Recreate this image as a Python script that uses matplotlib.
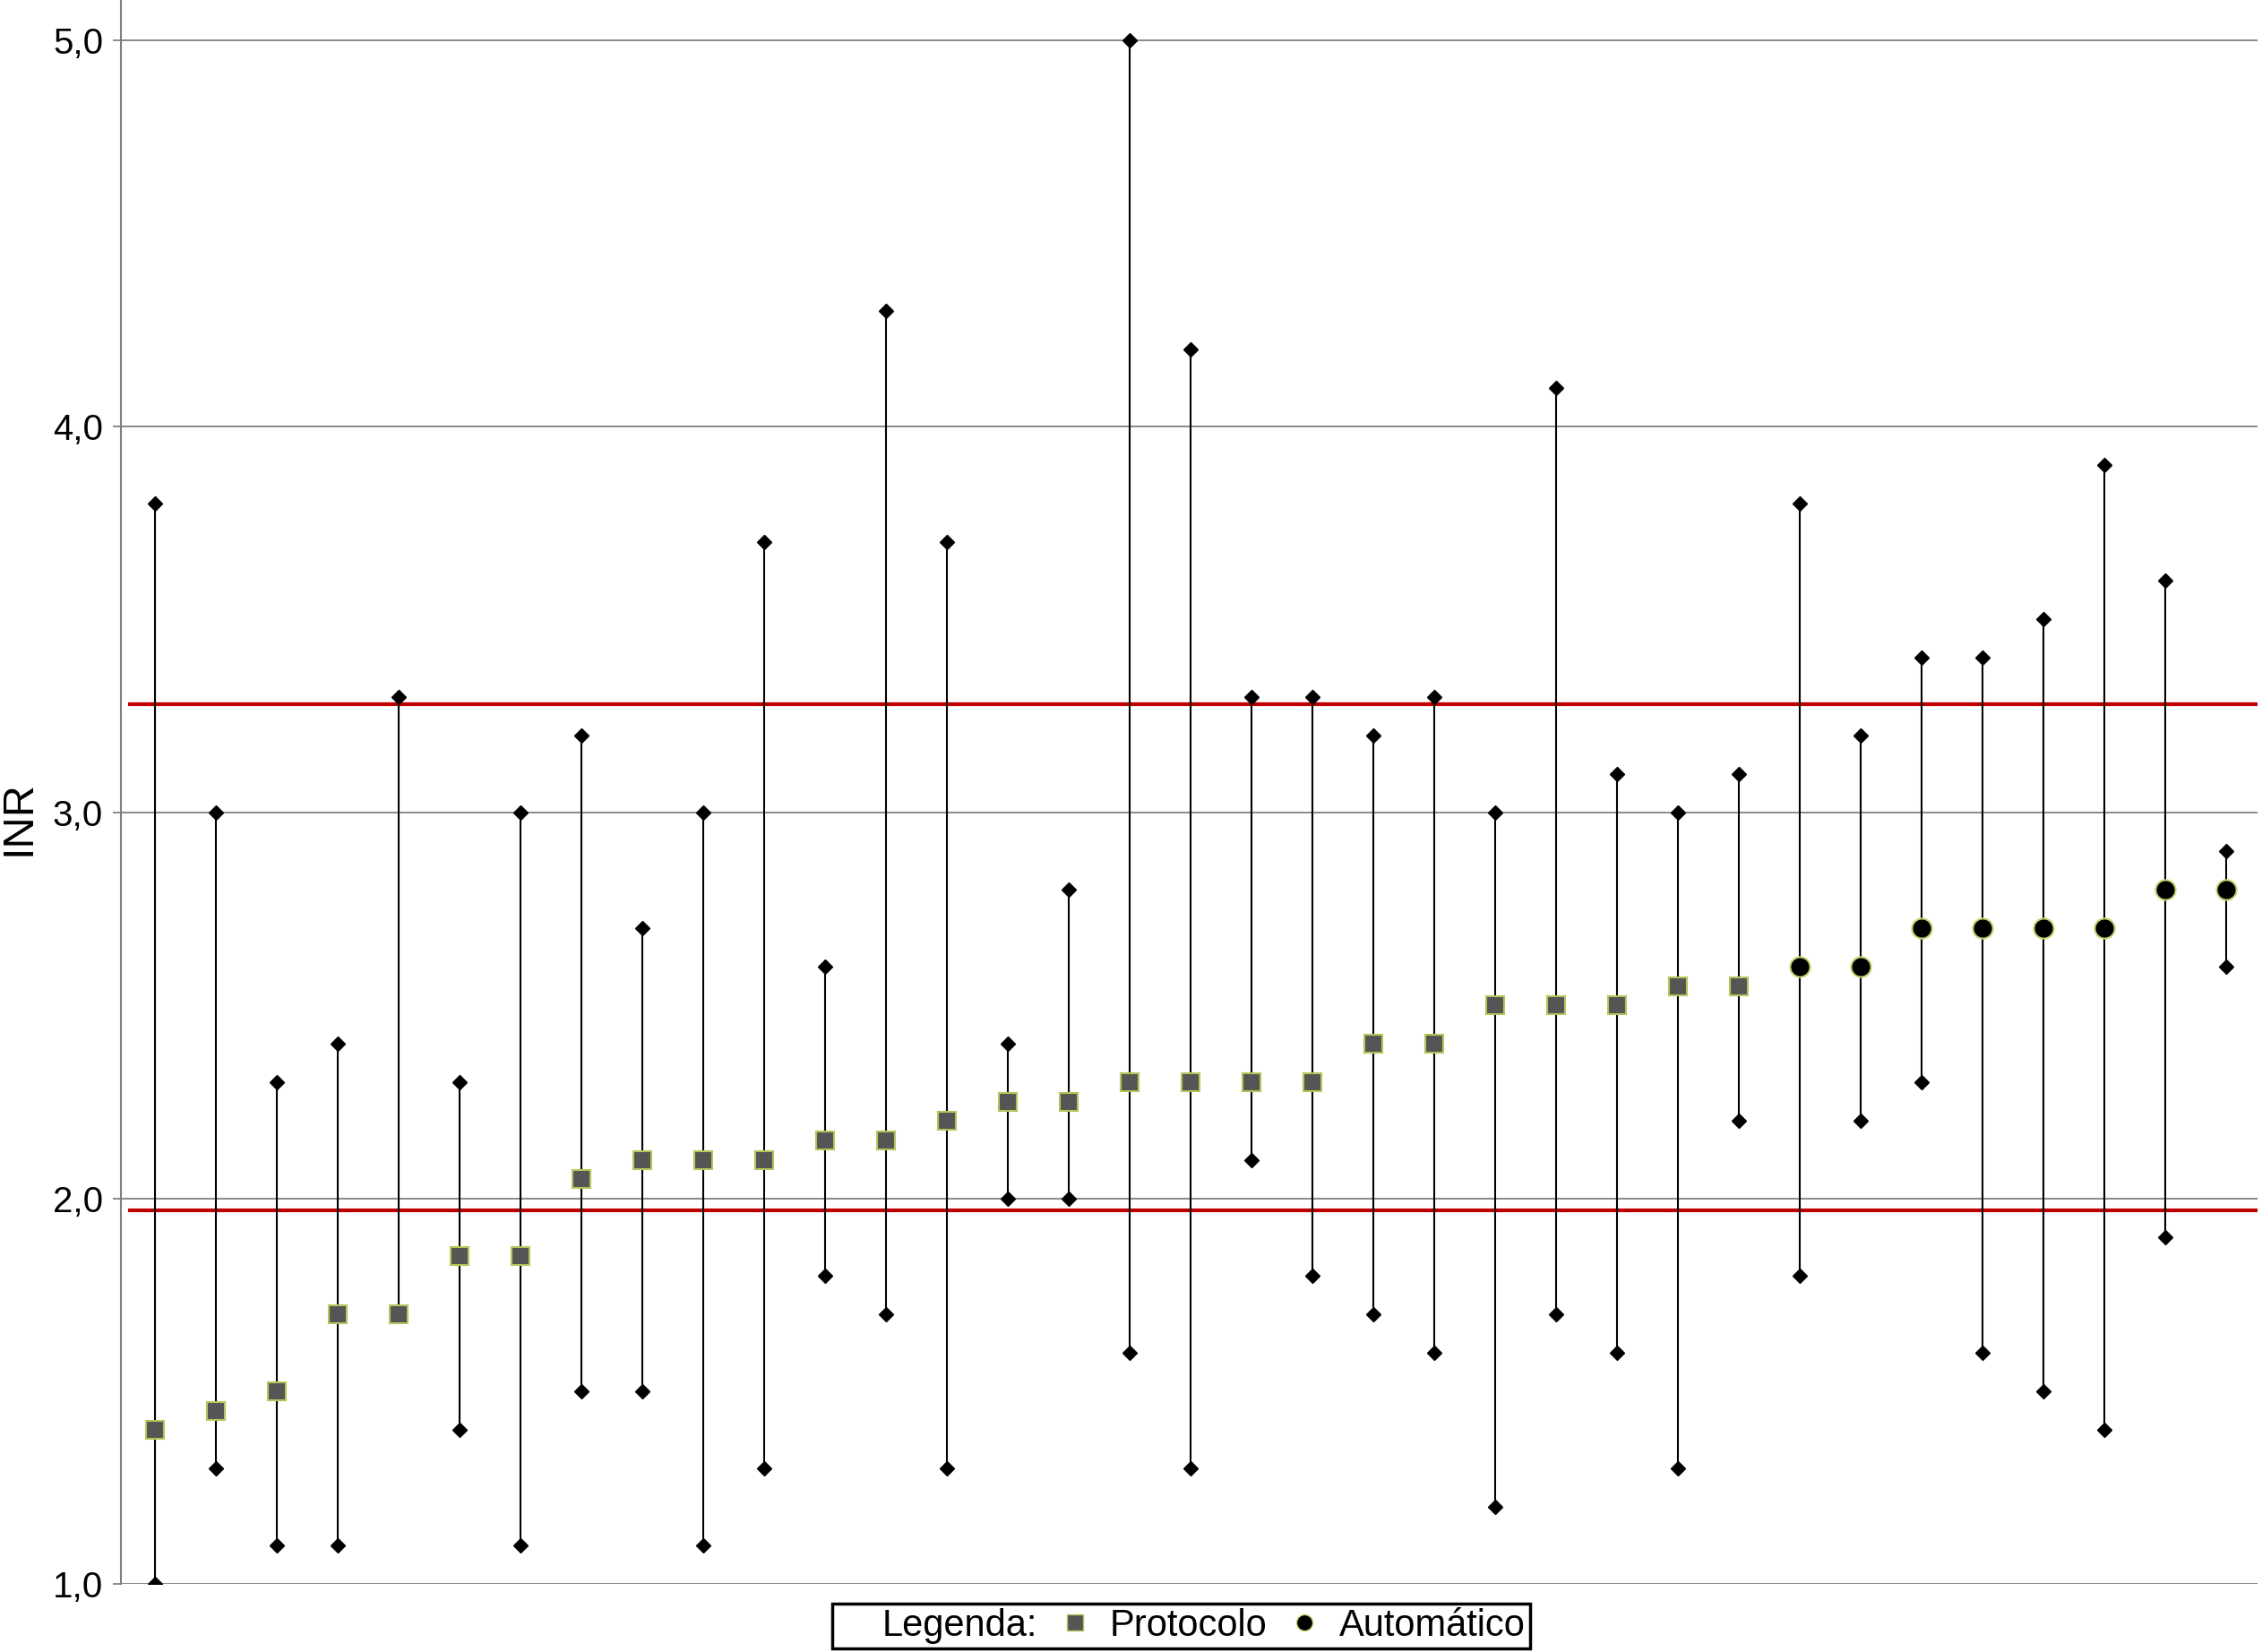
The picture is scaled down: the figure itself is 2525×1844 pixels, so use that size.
import numpy as np
import matplotlib
matplotlib.use('Agg')
import matplotlib.pyplot as plt
from matplotlib.lines import Line2D

# INR por doente: valor central, mínimo e máximo
centro = [1.4, 1.45, 1.5, 1.7, 1.7, 1.85, 1.85, 2.05, 2.1, 2.1, 2.1, 2.15, 2.15, 2.2,
          2.25, 2.25, 2.3, 2.3, 2.3, 2.3, 2.4, 2.4, 2.5, 2.5, 2.5, 2.55, 2.55,
          2.6, 2.6, 2.7, 2.7, 2.7, 2.7, 2.8, 2.8]
minimo = [1.0, 1.3, 1.1, 1.1, np.nan, 1.4, 1.1, 1.5, 1.5, 1.1, 1.3, 1.8, 1.7, 1.3,
          2.0, 2.0, 1.6, 1.3, 2.1, 1.8, 1.7, 1.6, 1.2, 1.7, 1.6, 1.3, 2.2,
          1.8, 2.2, 2.3, 1.6, 1.5, 1.4, 1.9, 2.6]
maximo = [3.8, 3.0, 2.3, 2.4, 3.3, 2.3, 3.0, 3.2, 2.7, 3.0, 3.7, 2.6, 4.3, 3.7,
          2.4, 2.8, 5.0, 4.2, 3.3, 3.3, 3.2, 3.3, 3.0, 4.1, 3.1, 3.0, 3.1,
          3.8, 3.2, 3.4, 3.4, 3.5, 3.9, 3.6, 2.9]
tipo = ['Protocolo'] * 27 + ['Automático'] * 8

limites = [1.97, 3.28]
yticks = [1, 2, 3, 4, 5]
ytick_labels = ['1,0', '2,0', '3,0', '4,0', '5,0']

plt.rcParams['font.family'] = ['Liberation Sans', 'DejaVu Sans']

centro = np.array(centro)
minimo = np.array(minimo)
maximo = np.array(maximo)
tipo = np.array(tipo)
x = np.arange(1, len(centro) + 1)

fig = plt.figure(figsize=(25.25, 18.44), dpi=100)
ax = fig.add_axes([0.0536, 0.041, 0.9445, 0.959])

cinza = '#808080'
for y in yticks:
    ax.axhline(y, color=cinza, lw=1.3, zorder=1)
for y in limites:
    ax.axhline(y, xmin=0.004, color='#c00000', lw=3, zorder=2)

base = np.fmin(minimo, centro)
ax.vlines(x, base, maximo, color='black', lw=1.5, zorder=3)
ax.plot(x, maximo, 'D', color='black', ms=8, zorder=4)
ax.plot(x, minimo, 'D', color='black', ms=8, zorder=4)

prot = tipo == 'Protocolo'
auto = tipo == 'Automático'
ax.plot(x[prot], centro[prot], 's', ms=15, mfc='#555555', mec='#b8c45a', mew=1.5, zorder=5)
ax.plot(x[auto], centro[auto], 'o', ms=16, mfc='black', mec='#c8d070', mew=1.5, zorder=5)

ax.set_xlim(0.45, 35.52)
ax.set_ylim(1.0, 5.105)
ax.set_yticks(yticks)
ax.set_yticklabels(ytick_labels)
ax.set_xticks([])
ax.tick_params(axis='y', labelsize=29, length=6.5, width=1.3, color=cinza, pad=8)
for s in ['top', 'right', 'bottom']:
    ax.spines[s].set_visible(False)
ax.spines['left'].set_color(cinza)
ax.spines['left'].set_linewidth(1.5)
ax.set_ylabel('INR', fontsize=35)
ax.yaxis.set_label_coords(-0.0386, 0.4836)

h0 = Line2D([], [], linestyle='none')
h1 = Line2D([], [], linestyle='none', marker='s', ms=13, mfc='#555555', mec='#b8c45a')
h2 = Line2D([], [], linestyle='none', marker='o', ms=13, mfc='black', mec='#c8d070')
leg = fig.legend([h0, h1, h2], ['Legenda:', 'Protocolo', 'Automático'], ncol=3,
                 loc='lower center', bbox_to_anchor=(0.522, 0.0), fontsize=30,
                 frameon=True, fancybox=False, edgecolor='black', framealpha=1,
                 handlelength=0.6, handletextpad=0.63, columnspacing=0.7,
                 borderpad=0.12, borderaxespad=0.1)
leg.get_frame().set_linewidth(2.5)

fig.savefig('out.png', dpi=100)
